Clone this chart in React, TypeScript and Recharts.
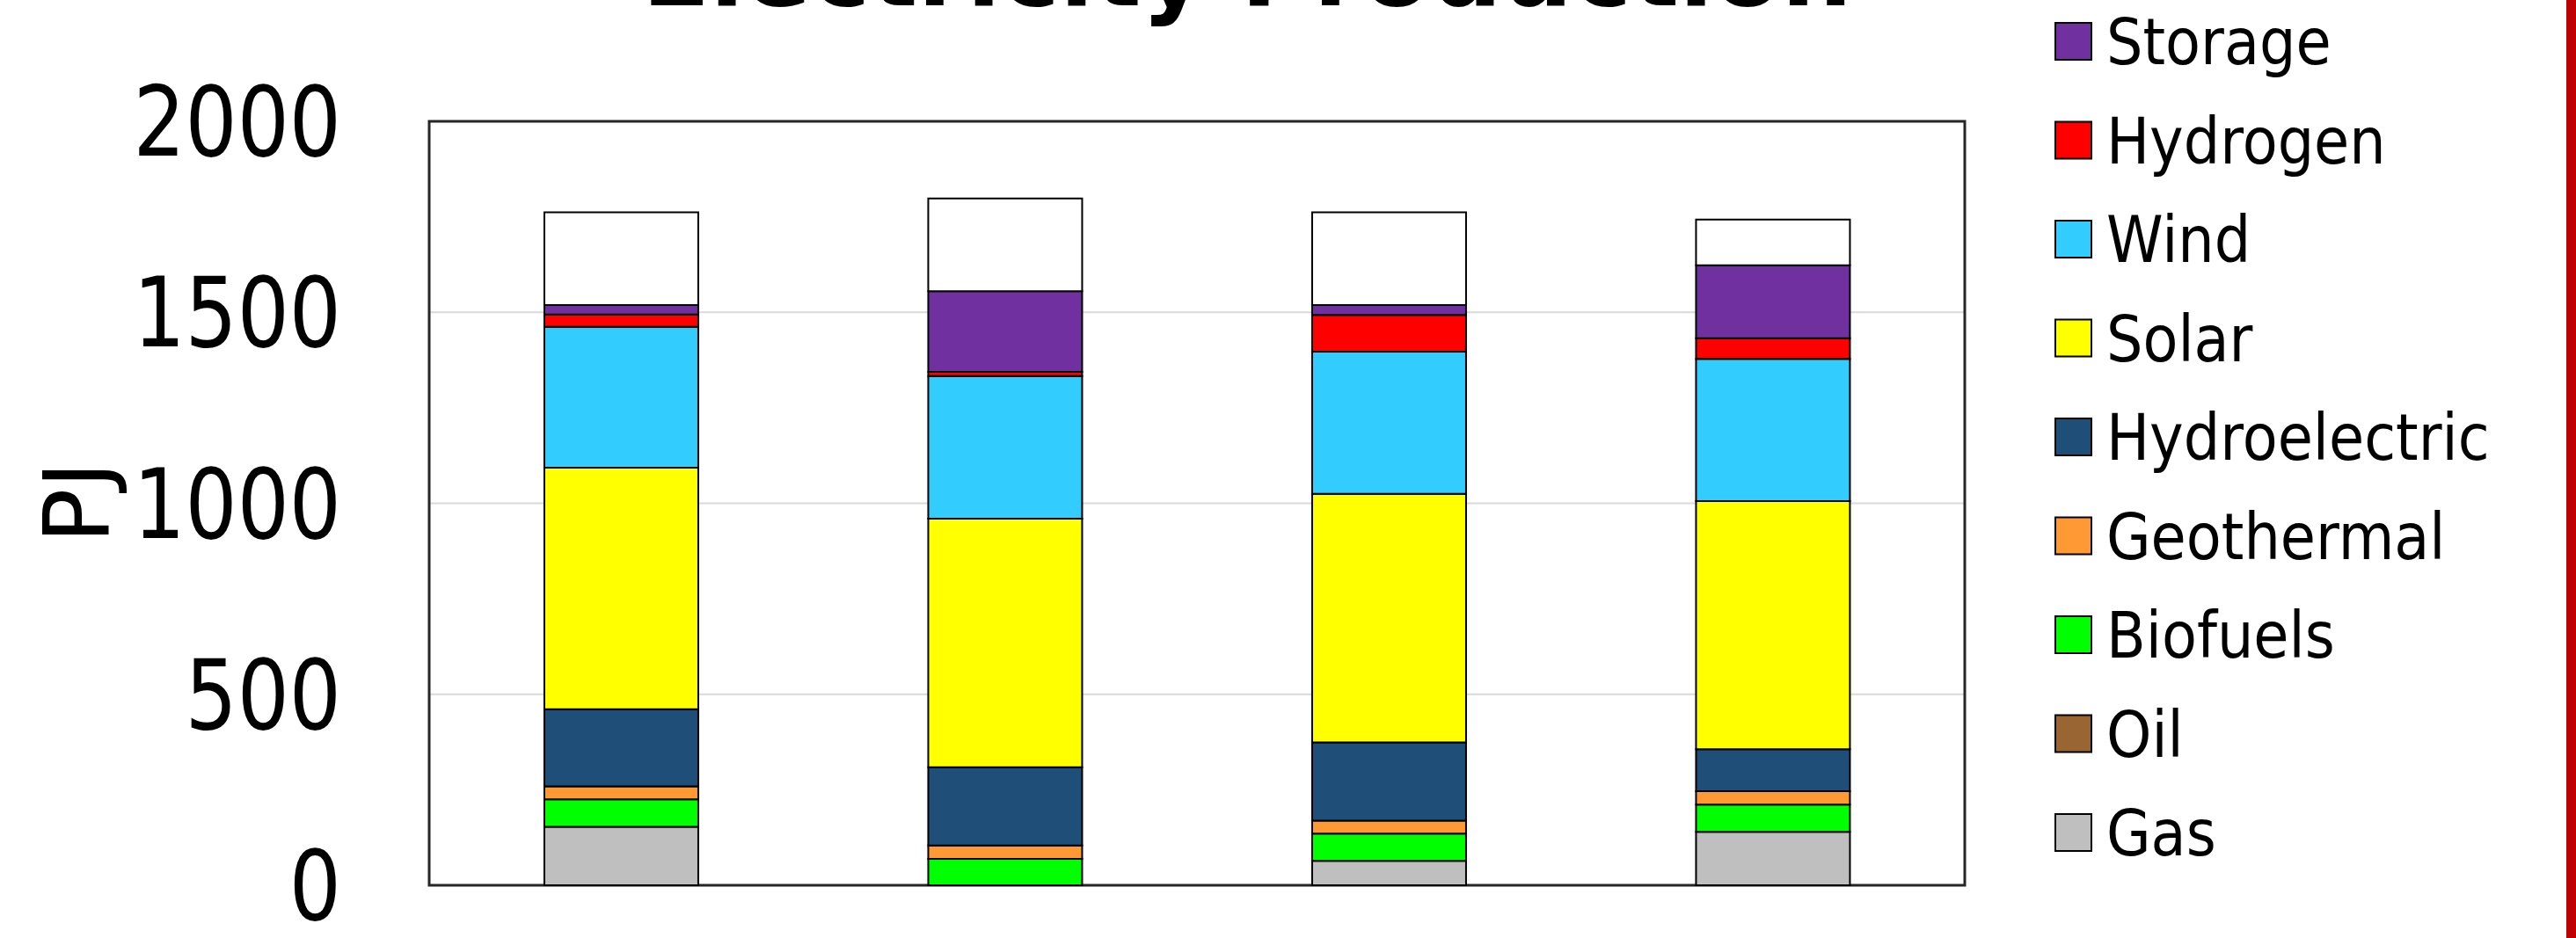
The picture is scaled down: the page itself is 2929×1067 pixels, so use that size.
import React from 'react';
import { BarChart, Bar, XAxis, YAxis, CartesianGrid, Legend, ReferenceArea } from 'recharts';

// four scenarios, no labels shown under the bars
const scenarios = ['A', 'B', 'C', 'D'];

// PJ, stacked bottom to top
const gas = [153, 0, 64, 140];
const oil = [0, 0, 0, 0];
const biofuels = [72, 69, 71, 71];
const geothermal = [34, 35, 34, 35];
const hydroelectric = [202, 205, 205, 110];
const solar = [632, 651, 651, 650];
const wind = [369, 373, 372, 372];
const hydrogen = [32, 11, 96, 54];
const storage = [25, 211, 26, 191];
const other = [243, 243, 243, 120]; // white block on top, not in legend

const seriesNames = ['Gas', 'Oil', 'Biofuels', 'Geothermal', 'Hydroelectric', 'Solar', 'Wind', 'Hydrogen', 'Storage', 'Other'];
const seriesColors = ['#BFBFBF', '#996633', '#00FF00', '#FF9933', '#1F4E79', '#FFFF00', '#33CCFF', '#FF0000', '#7030A0', '#FFFFFF'];
const seriesValues = [gas, oil, biofuels, geothermal, hydroelectric, solar, wind, hydrogen, storage, other];

const yTicks = [0, 500, 1000, 1500, 2000];

const FONT = 'DejaVu Sans';

const data = scenarios.map((s, i) => {
  const row: Record<string, string | number> = { scenario: s };
  seriesNames.forEach((name, k) => {
    row[name] = seriesValues[k][i];
  });
  return row;
});

const YTick = (props: any) => {
  const { x, y, payload } = props;
  return (
    <text
      transform={`translate(${x},${y + 39}) scale(0.845,1)`}
      textAnchor="end"
      fontFamily={FONT}
      fontSize={110}
      fill="#000"
    >
      {payload.value}
    </text>
  );
};

const renderLegend = () => {
  const items = seriesNames
    .map((name, k) => ({ name, color: seriesColors[k] }))
    .filter((d) => d.name !== 'Other')
    .reverse();
  return (
    <svg width={590} height={1067}>
      {items.map((it, i) => {
        const top = 26 + i * 112.5;
        return (
          <g key={it.name}>
            <rect x={1} y={top} width={41} height={42} fill={it.color} stroke="#000" strokeWidth={2} />
            <text
              transform={`translate(59,${top + 21 + 26}) scale(0.895,1)`}
              fontFamily={FONT}
              fontSize={73}
              fill="#000"
            >
              {it.name}
            </text>
          </g>
        );
      })}
    </svg>
  );
};

export default function App() {
  return (
    <div style={{ position: 'absolute', left: 0, top: 0, width: 2929, height: 1067, background: '#fff', overflow: 'hidden' }}>
      <BarChart
        width={2929}
        height={1067}
        data={data}
        margin={{ top: 138, right: 695, bottom: 60, left: 0 }}
        barCategoryGap="30%"
      >
        <CartesianGrid vertical={false} stroke="#D9D9D9" strokeWidth={2} />
        <XAxis dataKey="scenario" tick={false} tickLine={false} height={0} axisLine={false} />
        <YAxis
          width={488}
          domain={[0, 2000]}
          ticks={yTicks}
          tick={<YTick />}
          tickLine={false}
          tickSize={0}
          tickMargin={100}
          axisLine={false}
        />
        <Legend
          content={renderLegend}
          layout="vertical"
          align="center"
          verticalAlign="middle"
          wrapperStyle={{ left: 2336, top: 0, width: 590, height: 1067 }}
        />
        {seriesNames.map((name, k) => (
          <Bar
            key={name}
            dataKey={name}
            stackId="pj"
            fill={seriesColors[k]}
            stroke="#000"
            strokeWidth={2}
            isAnimationActive={false}
          />
        ))}
        {/* plot frame */}
        <ReferenceArea
          x1={scenarios[0]}
          x2={scenarios[scenarios.length - 1]}
          y1={0}
          y2={2000}
          fill="none"
          fillOpacity={0}
          stroke="#262626"
          strokeWidth={3}
          ifOverflow="visible"
        />
      </BarChart>
      <svg width={2929} height={1067} style={{ position: 'absolute', left: 0, top: 0, pointerEvents: 'none' }}>
        <text x={1418} y={6} textAnchor="middle" fontFamily={FONT} fontWeight="bold" fontSize={113} fill="#000">
          Electricity Production
        </text>
        <text transform="translate(123,571.5) rotate(-90)" textAnchor="middle" fontFamily={FONT} fontSize={104} fill="#000">
          PJ
        </text>
      </svg>
      <div style={{ position: 'absolute', left: 2918, top: 0, width: 11, height: 1067, background: '#C00000' }} />
    </div>
  );
}
